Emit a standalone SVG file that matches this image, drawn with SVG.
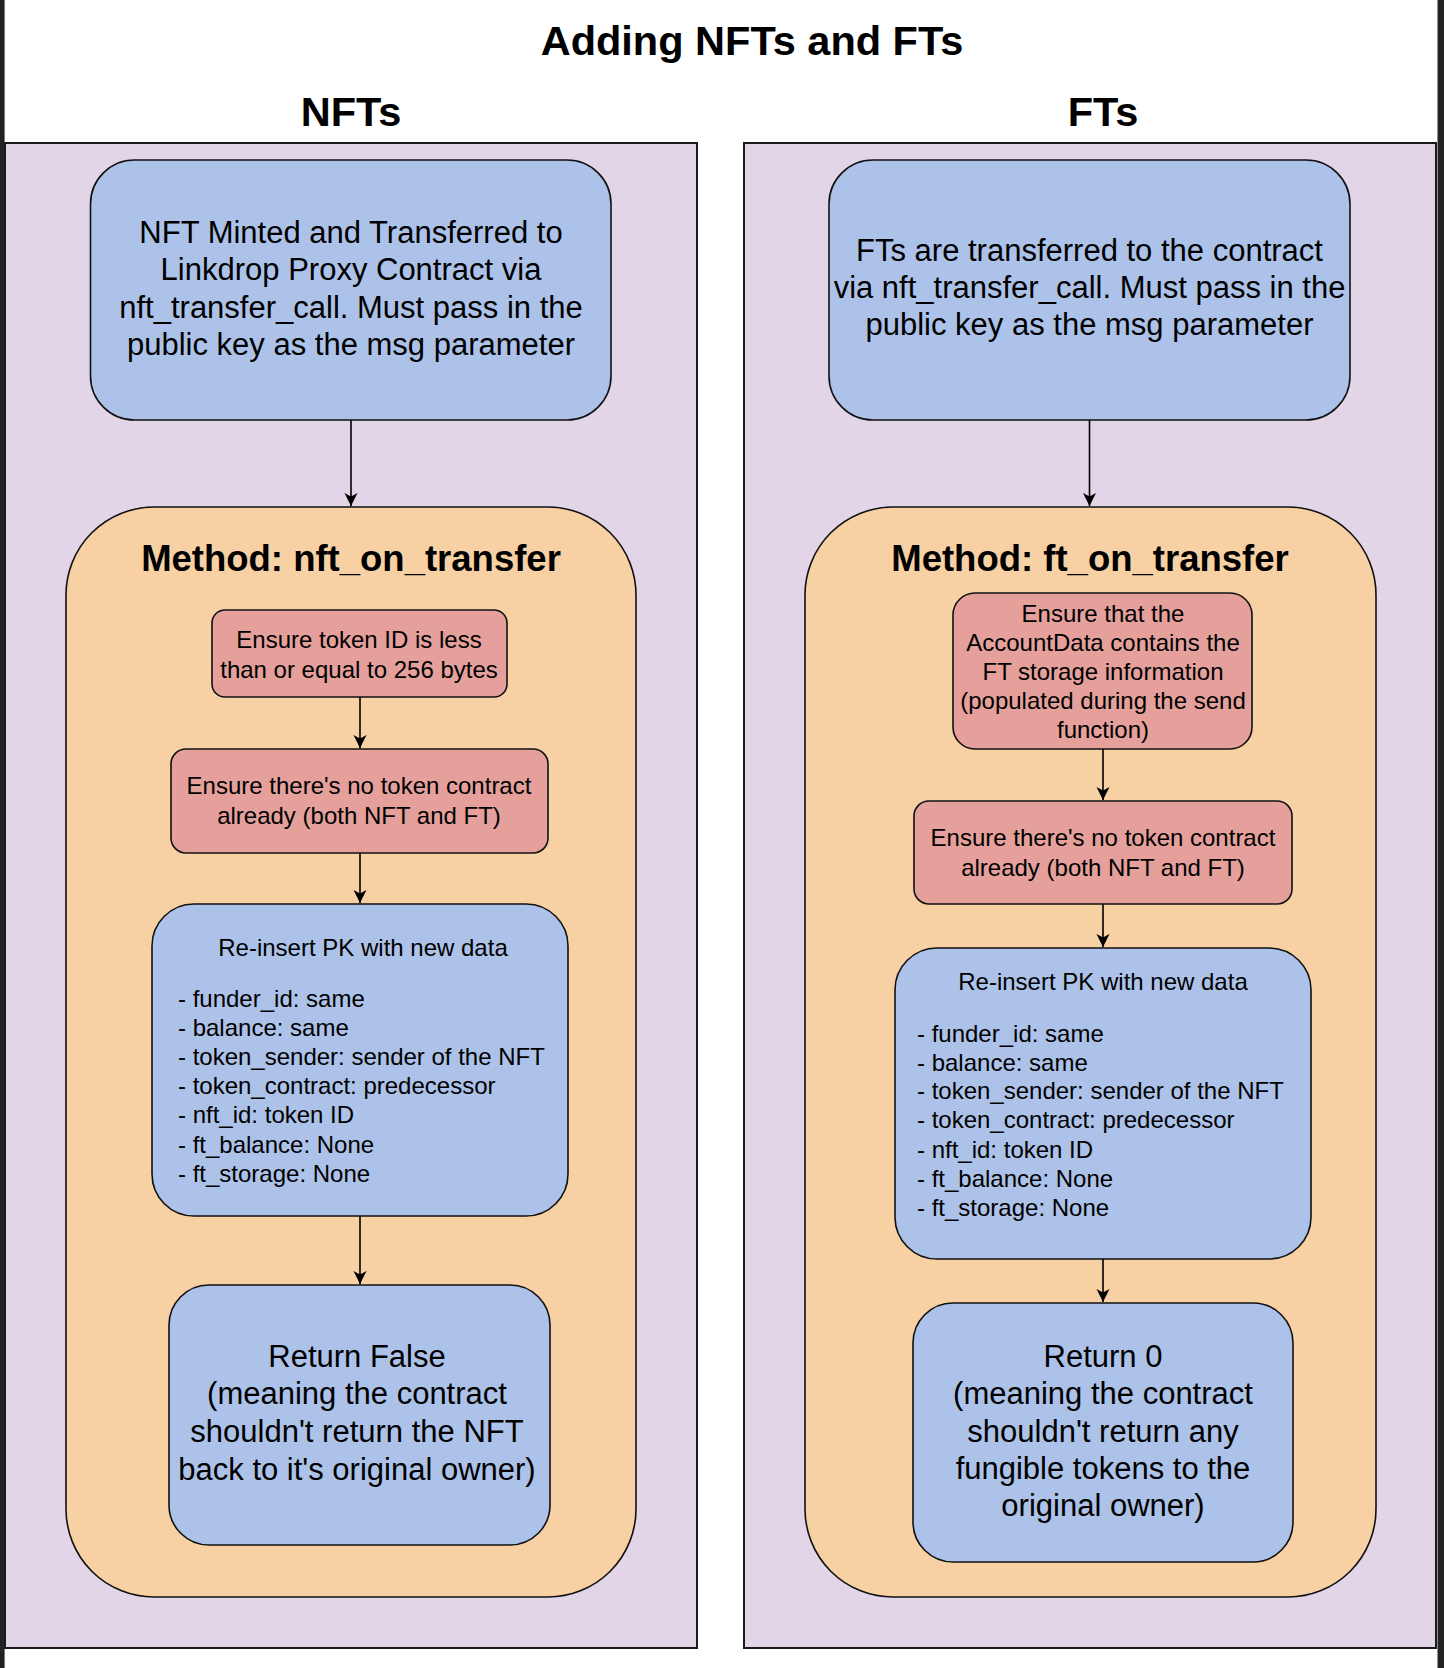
<svg xmlns="http://www.w3.org/2000/svg" width="1444" height="1668" viewBox="0 0 1444 1668">
<style>
text{font-family:"Liberation Sans",Arial,sans-serif;fill:#000}
.h{font-weight:bold;font-size:41.5px;text-anchor:middle}
.m{font-weight:bold;font-size:36.5px;text-anchor:middle}
.big{font-size:31px;text-anchor:middle}
.sm{font-size:24px;text-anchor:middle}
.ls{font-size:24px}
.panel{fill:#e1d5e7;stroke:#1a1a1a;stroke-width:2}
.blue{fill:#adc2e8;stroke:#111;stroke-width:1.6}
.red{fill:#e5a09c;stroke:#111;stroke-width:1.6}
.orange{fill:#f7d0a4;stroke:#111;stroke-width:1.6}
.edge{stroke:#000;stroke-width:1.6;fill:none;marker-end:url(#arr)}
</style>
<defs>
<marker id="arr" markerWidth="16" markerHeight="16" refX="13" refY="7.5" orient="auto" markerUnits="userSpaceOnUse">
<path d="M0,1 L13,7.5 L0,14 L3.5,7.5 Z" fill="#000"/>
</marker>
</defs>
<rect x="0" y="0" width="1444" height="1668" fill="#fff"/>
<rect x="0" y="0" width="4.6" height="1668" fill="#222"/>
<rect x="1437.5" y="0" width="6.5" height="1668" fill="#222"/>
<text class="h" x="752" y="55">Adding NFTs and FTs</text>

<g id="panel-nft">
<rect class="panel" x="5" y="143" width="692" height="1505"/>
<text class="h" x="351" y="126">NFTs</text>
</g>
<g id="panel-ft">
<rect class="panel" x="744" y="143" width="692" height="1505"/>
<text class="h" x="1103" y="126">FTs</text>
</g>

<g id="method-nft">
<rect class="orange" x="66" y="507" width="570" height="1090" rx="88" ry="88"/>
<text class="m" x="351" y="571">Method: nft_on_transfer</text>
</g>
<g id="method-ft">
<rect class="orange" x="805" y="507" width="571" height="1090" rx="88" ry="88"/>
<text class="m" x="1090" y="571">Method: ft_on_transfer</text>
</g>

<g id="nft-minted">
<rect class="blue" x="90.5" y="160" width="520.5" height="260" rx="44" ry="44"/>
<text class="big" x="351" y="243">NFT Minted and Transferred to</text>
<text class="big" x="351" y="280">Linkdrop Proxy Contract via</text>
<text class="big" x="351" y="318">nft_transfer_call. Must pass in the</text>
<text class="big" x="351" y="355">public key as the msg parameter</text>
</g>
<g id="nft-check-id">
<rect class="red" x="212" y="610" width="295" height="87" rx="13" ry="13"/>
<text class="sm" x="359" y="648">Ensure token ID is less</text>
<text class="sm" x="359" y="678">than or equal to 256 bytes</text>
</g>
<g id="nft-check-contract">
<rect class="red" x="171" y="749" width="377" height="104" rx="15" ry="15"/>
<text class="sm" x="359" y="794">Ensure there's no token contract</text>
<text class="sm" x="359" y="824">already (both NFT and FT)</text>
</g>
<g id="nft-reinsert">
<rect class="blue" x="152" y="904" width="416" height="312" rx="42" ry="42"/>
<text class="sm" x="363" y="956">Re-insert PK with new data</text>
<text class="ls" x="178" y="1007">- funder_id: same</text>
<text class="ls" x="178" y="1036">- balance: same</text>
<text class="ls" x="178" y="1065">- token_sender: sender of the NFT</text>
<text class="ls" x="178" y="1094">- token_contract: predecessor</text>
<text class="ls" x="178" y="1123">- nft_id: token ID</text>
<text class="ls" x="178" y="1153">- ft_balance: None</text>
<text class="ls" x="178" y="1182">- ft_storage: None</text>
</g>
<g id="nft-return">
<rect class="blue" x="169" y="1285" width="381" height="260" rx="40" ry="40"/>
<text class="big" x="357" y="1367">Return False</text>
<text class="big" x="357" y="1404">(meaning the contract</text>
<text class="big" x="357" y="1442">shouldn't return the NFT</text>
<text class="big" x="357" y="1480">back to it's original owner)</text>
</g>

<g id="ft-transferred">
<rect class="blue" x="829" y="160" width="521" height="260" rx="44" ry="44"/>
<text class="big" x="1089.5" y="261">FTs are transferred to the contract</text>
<text class="big" x="1089.5" y="298">via nft_transfer_call. Must pass in the</text>
<text class="big" x="1089.5" y="335">public key as the msg parameter</text>
</g>
<g id="ft-check-storage">
<rect class="red" x="953" y="593" width="299" height="156" rx="22" ry="22"/>
<text class="sm" x="1103" y="622">Ensure that the</text>
<text class="sm" x="1103" y="651">AccountData contains the</text>
<text class="sm" x="1103" y="680">FT storage information</text>
<text class="sm" x="1103" y="709">(populated during the send</text>
<text class="sm" x="1103" y="738">function)</text>
</g>
<g id="ft-check-contract">
<rect class="red" x="914" y="801" width="378" height="103" rx="15" ry="15"/>
<text class="sm" x="1103" y="846">Ensure there's no token contract</text>
<text class="sm" x="1103" y="876">already (both NFT and FT)</text>
</g>
<g id="ft-reinsert">
<rect class="blue" x="895" y="948" width="416" height="311" rx="42" ry="42"/>
<text class="sm" x="1103" y="990">Re-insert PK with new data</text>
<text class="ls" x="917" y="1042">- funder_id: same</text>
<text class="ls" x="917" y="1071">- balance: same</text>
<text class="ls" x="917" y="1099">- token_sender: sender of the NFT</text>
<text class="ls" x="917" y="1128">- token_contract: predecessor</text>
<text class="ls" x="917" y="1158">- nft_id: token ID</text>
<text class="ls" x="917" y="1187">- ft_balance: None</text>
<text class="ls" x="917" y="1216">- ft_storage: None</text>
</g>
<g id="ft-return">
<rect class="blue" x="913" y="1303" width="380" height="259" rx="40" ry="40"/>
<text class="big" x="1103" y="1367">Return 0</text>
<text class="big" x="1103" y="1404">(meaning the contract</text>
<text class="big" x="1103" y="1442">shouldn't return any</text>
<text class="big" x="1103" y="1479">fungible tokens to the</text>
<text class="big" x="1103" y="1516">original owner)</text>
</g>

<g id="connectors">
<line class="edge" x1="351" y1="420" x2="351" y2="506"/>
<line class="edge" x1="360" y1="697" x2="360" y2="748"/>
<line class="edge" x1="360" y1="853" x2="360" y2="903"/>
<line class="edge" x1="360" y1="1216" x2="360" y2="1284"/>
<line class="edge" x1="1089.5" y1="420" x2="1089.5" y2="506"/>
<line class="edge" x1="1103" y1="749" x2="1103" y2="800"/>
<line class="edge" x1="1103" y1="904" x2="1103" y2="947"/>
<line class="edge" x1="1103" y1="1259" x2="1103" y2="1302"/>
</g>
</svg>
